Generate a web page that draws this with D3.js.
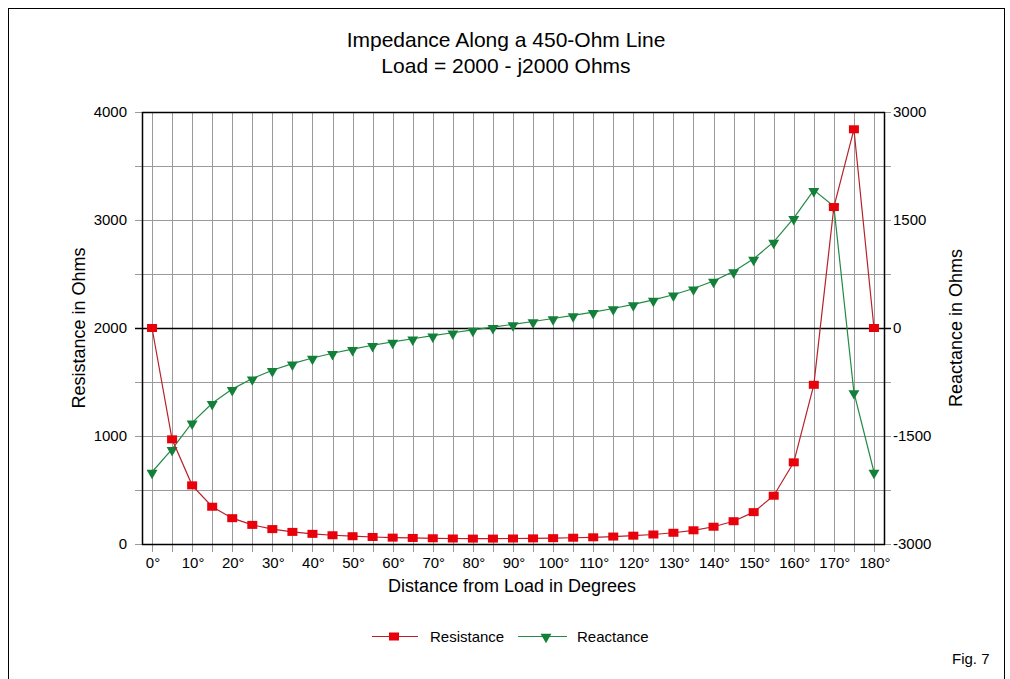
<!DOCTYPE html>
<html><head><meta charset="utf-8">
<script src="https://cdn.jsdelivr.net/npm/d3@7"></script>
<style>
html,body{margin:0;padding:0;background:#fff;}
svg{display:block;font-family:"Liberation Sans",Arial,sans-serif;}
</style></head>
<body><svg id="c" width="1010" height="679"></svg>
<script>
const degrees = [0,5,10,15,20,25,30,35,40,45,50,55,60,65,70,75,80,85,90,95,100,105,110,115,120,125,130,135,140,145,150,155,160,165,170,175,180];
const resistance = [2000,969,543,345,239,177,138,112,94,81,72,65,59,56,53,51,50,50,51,52,54,58,62,69,77,88,104,127,160,211,295,447,756,1474,3120,3840,2000];
const reactance = [-2000,-1683,-1315,-1045,-849,-702,-587,-495,-417,-351,-293,-240,-193,-149,-107,-66,-27,12,51,90,132,175,221,271,327,390,462,548,653,786,960,1196,1525,1915,1690,-893,-2000];
const leftTicks = [0,1000,2000,3000,4000];
const rightTicks = [-3000,-1500,0,1500,3000];
const gridValues = [0,500,1000,1500,2000,2500,3000,3500,4000];
const labelledDegrees = [0,10,20,30,40,50,60,70,80,90,100,110,120,130,140,150,160,170,180];

const svg = d3.select("#c");
const L = 142, R = 884, T = 112, B = 544;

// outer frame
svg.append("rect").attr("x",8.5).attr("y",8.5).attr("width",996).attr("height",700)
  .attr("fill","none").attr("stroke","#000").attr("stroke-width",1);

const x = d3.scalePoint().domain(degrees).range([L,R]).padding(0.5);
const yL = d3.scaleLinear().domain([0,4000]).range([B,T]);
const yR = d3.scaleLinear().domain([-3000,3000]).range([B,T]);

// vertical grid + x ticks
svg.append("g").selectAll("line").data(degrees).join("line")
  .attr("x1",d=>Math.round(x(d))+0.5).attr("x2",d=>Math.round(x(d))+0.5)
  .attr("y1",T).attr("y2",B+8).attr("stroke","#9a9a9a").attr("stroke-width",1);

// horizontal grid + ticks on both sides
svg.append("g").selectAll("line").data(gridValues).join("line")
  .attr("x1",L-7).attr("x2",R+7)
  .attr("y1",d=>Math.round(yL(d))+0.5).attr("y2",d=>Math.round(yL(d))+0.5)
  .attr("stroke",d=>d===2000?"#000":"#9a9a9a").attr("stroke-width",d=>d===2000?1.3:1);

// axes frame lines
svg.append("line").attr("x1",L+0.5).attr("x2",L+0.5).attr("y1",T).attr("y2",B+1).attr("stroke","#000").attr("stroke-width",1.5);
svg.append("line").attr("x1",R+0.5).attr("x2",R+0.5).attr("y1",T).attr("y2",B+1).attr("stroke","#000").attr("stroke-width",1.5);
svg.append("line").attr("x1",L).attr("x2",R+1).attr("y1",B+0.5).attr("y2",B+0.5).attr("stroke","#000").attr("stroke-width",1.5);
svg.append("line").attr("x1",L).attr("x2",R+1).attr("y1",T+0.5).attr("y2",T+0.5).attr("stroke","#000").attr("stroke-width",1.5);

// left tick labels
svg.append("g").selectAll("text").data(leftTicks).join("text")
  .attr("x",L-15).attr("y",d=>yL(d)+5).attr("text-anchor","end")
  .attr("font-size",15).attr("fill","#000").text(d=>d);
// right tick labels
svg.append("g").selectAll("text").data(rightTicks).join("text")
  .attr("x",R+9).attr("y",d=>yR(d)+5).attr("text-anchor","start")
  .attr("font-size",15).attr("fill","#000").text(d=>d);
// x tick labels
svg.append("g").selectAll("text").data(labelledDegrees).join("text")
  .attr("x",d=>x(d)+1).attr("y",568).attr("text-anchor","middle")
  .attr("font-size",15).attr("fill","#000").text(d=>d+"°");

// titles
svg.append("text").attr("x",506).attr("y",47).attr("text-anchor","middle").attr("font-size",21).text("Impedance Along a 450-Ohm Line");
svg.append("text").attr("x",506).attr("y",73).attr("text-anchor","middle").attr("font-size",21).text("Load = 2000 - j2000 Ohms");
svg.append("text").attr("x",512).attr("y",592).attr("text-anchor","middle").attr("font-size",18).text("Distance from Load in Degrees");
svg.append("text").attr("transform","translate(85,328) rotate(-90)").attr("text-anchor","middle").attr("font-size",18).text("Resistance in Ohms");
svg.append("text").attr("transform","translate(962,328) rotate(-90)").attr("text-anchor","middle").attr("font-size",18).text("Reactance in Ohms");
svg.append("text").attr("x",952).attr("y",664).attr("font-size",15).text("Fig. 7");

const redLine = "#b8202a", redFill = "#e8000a", grnLine = "#238a44", grnFill = "#13803a";
const tri = d3.symbol().type(d3.symbolTriangle).size(52);

// reactance series
const rxData = degrees.map((d,i)=>[d,reactance[i]]);
svg.append("path").datum(rxData)
  .attr("d",d3.line().x(d=>x(d[0])).y(d=>yR(d[1])))
  .attr("fill","none").attr("stroke",grnLine).attr("stroke-width",1.2);
svg.append("g").selectAll("path").data(rxData).join("path")
  .attr("d",tri).attr("transform",d=>`translate(${x(d[0])},${yR(d[1])+1}) rotate(180)`)
  .attr("fill",grnFill);

// resistance series
const rsData = degrees.map((d,i)=>[d,resistance[i]]);
svg.append("path").datum(rsData)
  .attr("d",d3.line().x(d=>x(d[0])).y(d=>yL(d[1])))
  .attr("fill","none").attr("stroke",redLine).attr("stroke-width",1.2);
svg.append("g").selectAll("rect").data(rsData).join("rect")
  .attr("x",d=>x(d[0])-5).attr("y",d=>yL(d[1])-4).attr("width",10).attr("height",8)
  .attr("fill",redFill);

// legend
const lg = svg.append("g");
lg.append("line").attr("x1",372).attr("x2",418).attr("y1",636.5).attr("y2",636.5).attr("stroke",redLine).attr("stroke-width",1.2);
lg.append("rect").attr("x",389).attr("y",632.5).attr("width",10).attr("height",8).attr("fill",redFill);
lg.append("text").attr("x",430).attr("y",642).attr("font-size",15).text("Resistance");
lg.append("line").attr("x1",518).attr("x2",567).attr("y1",636.5).attr("y2",636.5).attr("stroke",grnLine).attr("stroke-width",1.2);
lg.append("path").attr("d",tri).attr("transform","translate(546,637) rotate(180)").attr("fill",grnFill);
lg.append("text").attr("x",577).attr("y",642).attr("font-size",15).text("Reactance");
</script></body></html>
